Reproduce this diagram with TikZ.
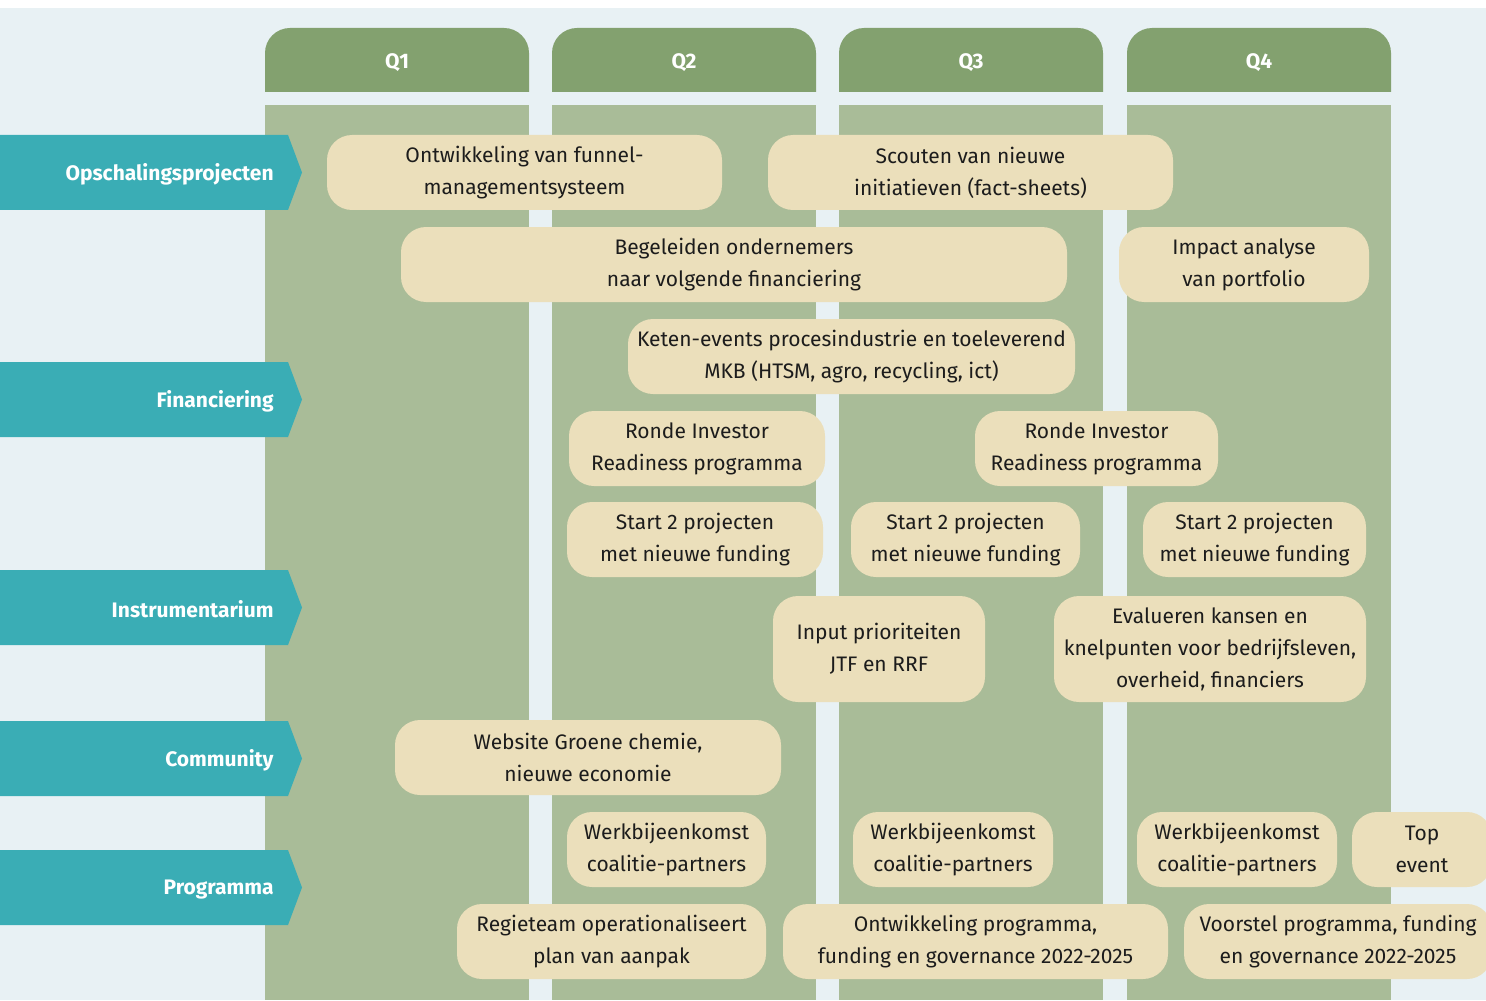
\documentclass[tikz,border=0pt]{standalone}
\usepackage{fontspec}
\setmainfont{Fira Sans}
\usepackage{xcolor}
\usetikzlibrary{positioning}

\definecolor{bgblue}{HTML}{E8F1F4}
\definecolor{qgreen}{HTML}{83A16F}
\definecolor{colgreen}{HTML}{A9BC98}
\definecolor{laneteal}{HTML}{3AADB5}
\definecolor{taskbeige}{HTML}{EBDFBB}
\definecolor{taskink}{HTML}{1C1C1C}

\begin{document}
\begin{tikzpicture}[
    x=0.5pt, y=-0.5pt,
    % quarter headers and columns
    header/.style={fill=qgreen},
    column/.style={fill=colgreen},
    qtext/.style={text=white, yshift=-1.5pt,
      font=\bfseries\fontsize{10.5}{12}\selectfont},
    % teal lane tags on the left
    lanetag/.style={fill=laneteal},
    lanetext/.style={text=white, anchor=east, inner sep=0pt, yshift=-1pt,
      font=\bfseries\fontsize{10.5}{12}\selectfont},
    % beige activity boxes
    task/.style={fill=taskbeige, rounded corners=12.5pt, align=center,
      inner sep=0pt, text=taskink, font=\fontsize{10.5}{16}\selectfont},
    boxsize/.style 2 args={minimum width=#1*0.5pt, minimum height=#2*0.5pt},
  ]
    \useasboundingbox (0,0) rectangle (1486,1000);
    \fill[white] (0,0) rectangle (1486,8);
    \fill[bgblue] (0,8) rectangle (1486,1000);

    % columns
    \begin{scope}
      \clip (0,0) rectangle (1486,92);
      \foreach \x in {265,552,839,1127}
        \fill[header, rounded corners=12.5pt] (\x,28) rectangle ++(264,100);
    \end{scope}
    \foreach \x in {265,552,839,1127}
      \fill[column] (\x,105) rectangle ++(264,895);
    \node[qtext] (q1) at (397,60) {Q1};
    \node[qtext] (q2) at (684,60) {Q2};
    \node[qtext] (q3) at (971,60) {Q3};
    \node[qtext] (q4) at (1259,60) {Q4};

    % lanes
    \foreach \y/\name/\txt in {172.5/opsch/Opschalingsprojecten,
        399.5/finan/Financiering, 607.5/instr/Instrumentarium,
        758.5/commu/Community, 887.5/progr/Programma} {
      \fill[lanetag] (0,\y-37.5) -- (288,\y-37.5) -- (302,\y)
        -- (288,\y+37.5) -- (0,\y+37.5) -- cycle;
      \node[lanetext] (\name) at (274,\y) {\txt};
    }

    % Opschalingsprojecten
    \node[task, boxsize={395}{75}] (funnel) at (524.5,172.5)
      {Ontwikkeling van funnel-\\managementsysteem};
    \node[task, boxsize={405}{75}] (scout) at (970.5,172.5)
      {Scouten van nieuwe\\initiatieven (fact-sheets)};
    \node[task, boxsize={666}{75}] (begel) at (734,264.5)
      {Begeleiden ondernemers\\naar volgende financiering};
    \node[task, boxsize={250}{75}] (impact) at (1244,264.5)
      {Impact analyse\\van portfolio};

    % Financiering
    \node[task, boxsize={447}{75}] (keten) at (851.5,356.5)
      {Keten-events procesindustrie en toeleverend\\MKB (HTSM, agro, recycling, ict)};
    \node[task, boxsize={256}{75}] (ronde1) at (697,448.5)
      {Ronde Investor\\Readiness programma};
    \node[task, boxsize={243}{75}] (ronde2) at (1096.5,448.5)
      {Ronde Investor\\Readiness programma};
    \node[task, boxsize={256}{75}] (start1) at (695,539.5)
      {Start 2 projecten\\met nieuwe funding};
    \node[task, boxsize={229}{75}] (start2) at (965.5,539.5)
      {Start 2 projecten\\met nieuwe funding};
    \node[task, boxsize={223}{75}] (start3) at (1254.5,539.5)
      {Start 2 projecten\\met nieuwe funding};

    % Instrumentarium
    \node[task, boxsize={212}{106}] (input) at (879,649)
      {Input prioriteiten\\JTF en RRF};
    \node[task, boxsize={312}{106}] (evalu) at (1210,649)
      {Evalueren kansen en\\knelpunten voor bedrijfsleven,\\overheid, financiers};

    % Community
    \node[task, boxsize={386}{75}] (websi) at (588,757.5)
      {Website Groene chemie,\\nieuwe economie};

    % Programma
    \node[task, boxsize={199}{75}] (werk1) at (666.5,849.5)
      {Werkbijeenkomst\\coalitie-partners};
    \node[task, boxsize={200}{75}] (werk2) at (953,849.5)
      {Werkbijeenkomst\\coalitie-partners};
    \node[task, boxsize={200}{75}] (werk3) at (1237,849.5)
      {Werkbijeenkomst\\coalitie-partners};
    \node[task, boxsize={140}{75}] (topev) at (1422,849.5)
      {Top\\event};
    \node[task, boxsize={309}{75}] (regie) at (611.5,941.5)
      {Regieteam operationaliseert\\plan van aanpak};
    \node[task, boxsize={385}{75}] (ontwp) at (975.5,941.5)
      {Ontwikkeling programma,\\funding en governance 2022-2025};
    \node[task, boxsize={308}{75}] (voors) at (1338,941.5)
      {Voorstel programma, funding\\en governance 2022-2025};
  \end{tikzpicture}
\end{document}
